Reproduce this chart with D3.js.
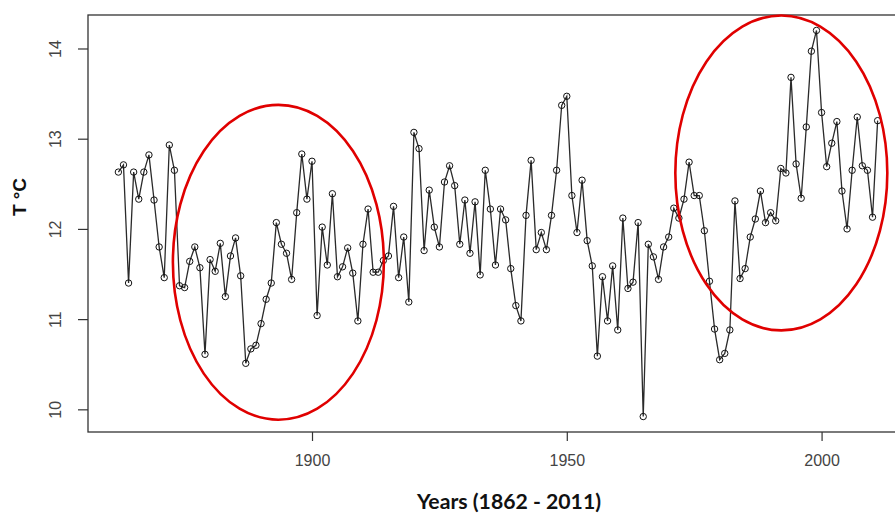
<!DOCTYPE html>
<html>
<head>
<meta charset="utf-8">
<script src="https://cdn.jsdelivr.net/npm/d3@7"></script>
<style>
  body { margin: 0; background: #fff; }
  svg { display: block; }
</style>
</head>
<body>
<div id="chart"></div>
<script>
// annual mean temperature, 1862 - 2011
var firstYear = 1862, lastYear = 2011;
var temps = [
  12.63, 12.71, 11.40, 12.63, 12.33, 12.63, 12.82, 12.32, 11.80, 11.46,
  12.93, 12.65, 11.37, 11.35, 11.64, 11.80, 11.57, 10.61, 11.66, 11.53,
  11.84, 11.25, 11.70, 11.90, 11.48, 10.51, 10.67, 10.71, 10.95, 11.22,
  11.40, 12.07, 11.83, 11.73, 11.44, 12.18, 12.83, 12.33, 12.75, 11.04,
  12.02, 11.60, 12.39, 11.47, 11.58, 11.79, 11.51, 10.98, 11.83, 12.22,
  11.52, 11.52, 11.65, 11.70, 12.25, 11.46, 11.91, 11.19, 13.07, 12.89,
  11.76, 12.43, 12.02, 11.80, 12.52, 12.70, 12.48, 11.83, 12.32, 11.73,
  12.30, 11.49, 12.65, 12.22, 11.60, 12.22, 12.10, 11.56, 11.15, 10.98,
  12.15, 12.76, 11.77, 11.96, 11.77, 12.15, 12.65, 13.37, 13.47, 12.37,
  11.96, 12.54, 11.87, 11.59, 10.59, 11.47, 10.98, 11.59, 10.88, 12.12,
  11.34, 11.41, 12.07, 9.92, 11.83, 11.69, 11.44, 11.80, 11.91, 12.23,
  12.12, 12.33, 12.74, 12.37, 12.37, 11.98, 11.42, 10.89, 10.55, 10.62,
  10.88, 12.31, 11.45, 11.56, 11.91, 12.11, 12.42, 12.07, 12.18, 12.09,
  12.67, 12.62, 13.68, 12.72, 12.34, 13.13, 13.97, 14.20, 13.29, 12.69,
  12.95, 13.19, 12.42, 12.00, 12.65, 13.24, 12.70, 12.65, 12.13, 13.20
];
var years = d3.range(firstYear, lastYear + 1);
var xTicks = [1900, 1950, 2000];
var yTicks = [10, 11, 12, 13, 14];

// highlighted periods (centre year, centre temp, half-width in years, half-height in degrees)
var ellipseYears = [1893.4, 1992.1];
var ellipseTemps = [11.63, 12.62];
var ellipseHalfYears = [20.7, 20.8];
var ellipseHalfTemps = [1.745, 1.745];

var width = 895, height = 514;
var margin = {left: 88, top: 15, bottom: 82};
var tickFont = "'Liberation Sans', Arial, sans-serif";

var data = years.map(function(y, i) { return {year: y, t: temps[i]}; });

// R style: pad the range by 4% on each side
var xPad = (lastYear - firstYear) * 0.04;
var tMin = d3.min(temps), tMax = d3.max(temps);
var yPad = (tMax - tMin) * 0.04;

var x = d3.scaleLinear()
	.domain([firstYear - xPad, lastYear + xPad])
	.range([margin.left, 908]);
var y = d3.scaleLinear()
	.domain([tMin - yPad, tMax + yPad])
	.range([height - margin.bottom, margin.top]);

var svg = d3.select('#chart')
	.append('svg')
	.attr('width', width)
	.attr('height', height);

// plot box
svg.append('rect')
	.attr('x', x.range()[0])
	.attr('y', y.range()[1])
	.attr('width', x.range()[1] - x.range()[0])
	.attr('height', y.range()[0] - y.range()[1])
	.attr('fill', 'none')
	.attr('stroke', '#333')
	.attr('stroke-width', 1.3);

var xAxis = svg.append('g')
	.attr('transform', 'translate(0,' + y.range()[0] + ')')
	.call(d3.axisBottom(x).tickValues(xTicks).tickFormat(d3.format('d')).tickSize(9).tickPadding(14));

var yAxis = svg.append('g')
	.attr('transform', 'translate(' + x.range()[0] + ',0)')
	.call(d3.axisLeft(y).tickValues(yTicks).tickFormat(d3.format('d')).tickSize(10));

[xAxis, yAxis].forEach(function(g) {
	g.attr('font-family', tickFont).attr('font-size', 16);
	g.select('.domain').remove();
	g.selectAll('line').attr('stroke', '#333').attr('stroke-width', 1.2);
	g.selectAll('text').attr('fill', '#444');
});

// y tick labels rotated like R (las = 0)
yAxis.selectAll('.tick text')
	.attr('x', null)
	.attr('dy', null)
	.attr('text-anchor', 'middle')
	.attr('transform', 'translate(-31,0) rotate(-90)')
	.attr('dominant-baseline', 'middle');

var line = d3.line()
	.x(function(d) { return x(d.year); })
	.y(function(d) { return y(d.t); });

svg.append('path')
	.datum(data)
	.attr('d', line)
	.attr('fill', 'none')
	.attr('stroke', '#2a2a2a')
	.attr('stroke-width', 1.3);

svg.selectAll('.pt')
	.data(data)
	.enter().append('circle')
	.attr('class', 'pt')
	.attr('cx', function(d) { return x(d.year); })
	.attr('cy', function(d) { return y(d.t); })
	.attr('r', 3.2)
	.attr('fill', 'none')
	.attr('stroke', '#111')
	.attr('stroke-width', 1);

// red ellipses
ellipseYears.forEach(function(cy, i) {
	svg.append('ellipse')
		.attr('cx', x(cy))
		.attr('cy', y(ellipseTemps[i]))
		.attr('rx', x(cy + ellipseHalfYears[i]) - x(cy))
		.attr('ry', y(ellipseTemps[i] - ellipseHalfTemps[i]) - y(ellipseTemps[i]))
		.attr('fill', 'none')
		.attr('stroke', '#e00000')
		.attr('stroke-width', 2.6);
});

// axis titles
svg.append('text')
	.attr('x', 509)
	.attr('y', 509)
	.attr('text-anchor', 'middle')
	.attr('textLength', 184)
	.attr('lengthAdjust', 'spacingAndGlyphs')
	.style('font-family', 'Lato, "Open Sans", sans-serif')
	.style('font-weight', 'bold')
	.style('font-size', '21px')
	.attr('fill', '#111')
	.text('Years (1862 - 2011)');

svg.append('text')
	.attr('transform', 'translate(26,197) rotate(-90)')
	.attr('text-anchor', 'middle')
	.style('font-family', tickFont)
	.style('font-weight', 'bold')
	.style('font-size', '19px')
	.attr('fill', '#111')
	.text('T °C');
</script>
</body>
</html>
